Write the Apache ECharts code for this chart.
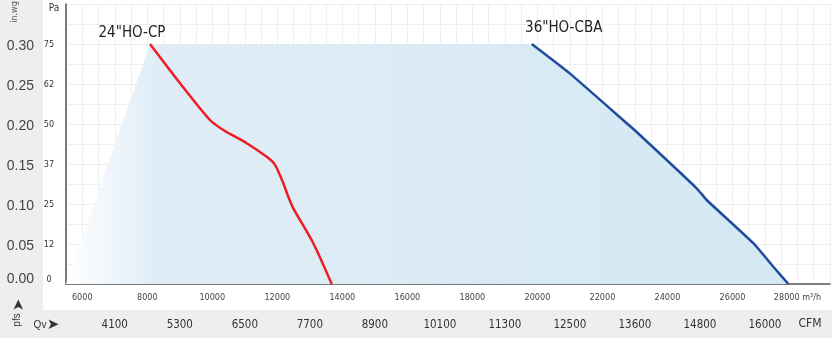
<!DOCTYPE html>
<html><head><meta charset="utf-8">
<script src="https://cdn.jsdelivr.net/npm/echarts@6/dist/echarts.min.js"></script>
<style>
html,body{margin:0;padding:0;background:#eeeeee;}
#wrap{position:relative;width:832px;height:338px;background:#eeeeee;}
#white{position:absolute;left:43px;top:0;width:789px;height:310px;background:#ffffff;}
#c{position:absolute;left:0;top:0;width:832px;height:338px;}
</style>
</head><body><div id="wrap"><div id="white"></div><div id="c"></div></div>
<script>
// ---- data ----
const xTicks = [6000, 8000, 10000, 12000, 14000, 16000, 18000, 20000, 22000, 24000, 26000, 28000];
const yTicks = [0, 0.05, 0.10, 0.15, 0.20, 0.25, 0.30];
const inwgLabels = ['0.00', '0.05', '0.10', '0.15', '0.20', '0.25', '0.30'];
const paLabels = ['0', '12', '25', '37', '50', '62', '75'];
const cfmPositions = [7000, 9000, 11000, 13000, 15000, 17000, 19000, 21000, 23000, 25000, 27000];
const cfmLabels = ['4100', '5300', '6500', '7700', '8900', '10100', '11300', '12500', '13600', '14800', '16000'];
const redName = '24"HO-CP';
const redX = [8084, 9007, 9929, 10339, 11058, 11674, 11929, 12184, 12338, 12492, 13107, 13673];
const redY = [0.300, 0.251, 0.205, 0.1925, 0.176, 0.159, 0.149, 0.126, 0.109, 0.0946, 0.0509, 0];
const blueName = '36"HO-CBA';
const blueX = [19825, 21003, 22746, 23053, 24900, 25207, 26641, 27256, 27718];
const blueY = [0.300, 0.263, 0.201, 0.190, 0.1196, 0.105, 0.051, 0.0216, 0];
const originX = 5500;

// ---- build ----
const NARROW = '"Liberation Sans Narrow", "DejaVu Sans Condensed", "Liberation Sans", sans-serif';
const pts = (xs, ys) => xs.map((x, i) => [x, ys[i]]);
const redPts = pts(redX, redY);
const bluePts = pts(blueX, blueY);
const envelope = [[originX, 0], redPts[0]].concat(bluePts);

function labeled(points, name, offset) {
  return points.map((p, i) => i === 0 ? {
    value: p,
    label: {show: true, formatter: name, position: 'top', distance: 2, offset: offset,
      fontFamily: NARROW, fontSize: 15, color: '#222'}
  } : p);
}

const chart = echarts.init(document.getElementById('c'), null, {renderer: 'canvas'});
chart.setOption({
  animation: false,
  backgroundColor: 'transparent',
  grid: {left: 66, right: 2, top: 4, bottom: 54, containLabel: false},
  xAxis: [{
    type: 'value', min: 5500, max: 29000, interval: 500, position: 'bottom',
    axisLine: {show: true, onZero: false, lineStyle: {color: '#555', width: 1.5}},
    axisTick: {show: false},
    splitLine: {show: true, lineStyle: {color: '#efefef', width: 1}},
    axisLabel: {
      customValues: xTicks, margin: 9, fontFamily: NARROW, fontSize: 9, color: '#444',
      formatter: v => v === 28000 ? '28000 m³/h' : String(v)
    }
  }, {
    type: 'value', min: 5500, max: 29000, position: 'bottom', offset: 26,
    axisLine: {show: false}, axisTick: {show: false}, splitLine: {show: false},
    axisLabel: {
      customValues: cfmPositions, margin: 9, fontFamily: NARROW, fontSize: 11.5, color: '#333',
      formatter: v => cfmLabels[cfmPositions.indexOf(v)]
    }
  }],
  yAxis: [{
    type: 'value', min: 0, max: 0.35, interval: 0.025, position: 'left',
    axisLine: {show: true, onZero: false, lineStyle: {color: '#555', width: 1.5}},
    axisTick: {show: false},
    splitLine: {show: true, lineStyle: {color: '#efefef', width: 1}},
    axisLabel: {
      customValues: yTicks, margin: 32, fontFamily: '"Liberation Sans", Arial, sans-serif',
      fontSize: 14, color: '#444',
      formatter: v => { const i = yTicks.indexOf(v); return i === 0 ? '{z|' + inwgLabels[i] + '}' : '{n|' + inwgLabels[i] + '}'; },
      rich: {z: {padding: [0, 0, 9, 0], fontSize: 14, color: '#444'}, n: {padding: [4, 0, 0, 0], fontSize: 14, color: '#444'}}
    }
  }, {
    type: 'value', min: 0, max: 0.35, interval: 0.025, position: 'left',
    axisLine: {show: false}, axisTick: {show: false}, splitLine: {show: false},
    axisLabel: {
      customValues: yTicks, margin: 17, align: 'center', fontFamily: NARROW, fontSize: 9, color: '#333',
      formatter: v => { const i = yTicks.indexOf(v); return i === 0 ? '{z|' + paLabels[i] + '}' : '{n|' + paLabels[i] + '}'; },
      rich: {z: {padding: [0, 0, 8, 0], fontFamily: NARROW, fontSize: 9, color: '#333'}, n: {padding: [1, 0, 0, 0], fontFamily: NARROW, fontSize: 9, color: '#333'}}
    }
  }],
  series: [{
    type: 'line', data: envelope, symbol: 'none', silent: true, z: 1,
    lineStyle: {width: 0, opacity: 0},
    areaStyle: {
      opacity: 1,
      color: new echarts.graphic.LinearGradient(0, 0, 1, 0, [
        {offset: 0, color: '#ffffff'},
        {offset: 0.12, color: '#e1edf6'},
        {offset: 1, color: '#d3e8f3'}
      ])
    }
  }, {
    type: 'line', name: redName, data: labeled(redPts, redName, [-18, -1]),
    showSymbol: true, symbol: 'circle', symbolSize: 0, smooth: 0.25, z: 3,
    itemStyle: {color: '#ee1c24'},
    lineStyle: {color: '#ee1c24', width: 2.5}
  }, {
    type: 'line', name: blueName, data: labeled(bluePts, blueName, [32, -6]),
    showSymbol: true, symbol: 'circle', symbolSize: 0, smooth: 0.15, z: 3,
    itemStyle: {color: '#1f4c9c'},
    lineStyle: {color: '#1f4c9c', width: 2.5}
  }],
  graphic: [
    {type: 'text', x: 15, y: 12, rotation: Math.PI / 2,
      style: {text: 'in.wg', fontFamily: NARROW, fontSize: 9, fill: '#555', align: 'center', verticalAlign: 'middle'}},
    {type: 'text', x: 54, y: 8,
      style: {text: 'Pa', fontFamily: NARROW, fontSize: 10, fill: '#333', align: 'center', verticalAlign: 'middle'}},
    {type: 'text', x: 19, y: 305, rotation: Math.PI / 2,
      style: {text: '➤', fontFamily: 'DejaVu Sans', fontSize: 15, fill: '#333', align: 'center', verticalAlign: 'middle'}},
    {type: 'text', x: 17, y: 320, rotation: Math.PI / 2,
      style: {text: 'pfs', fontFamily: '"Liberation Sans", sans-serif', fontSize: 10, fill: '#333', align: 'center', verticalAlign: 'middle'}},
    {type: 'text', x: 40, y: 325,
      style: {text: 'Qv', fontFamily: '"Liberation Sans", sans-serif', fontSize: 10, fill: '#333', align: 'center', verticalAlign: 'middle'}},
    {type: 'text', x: 53, y: 325,
      style: {text: '➤', fontFamily: 'DejaVu Sans', fontSize: 15, fill: '#333', align: 'center', verticalAlign: 'middle'}},
    {type: 'text', x: 810, y: 324,
      style: {text: 'CFM', fontFamily: NARROW, fontSize: 12, fill: '#333', align: 'center', verticalAlign: 'middle'}}
  ]
});
</script>
</body></html>
